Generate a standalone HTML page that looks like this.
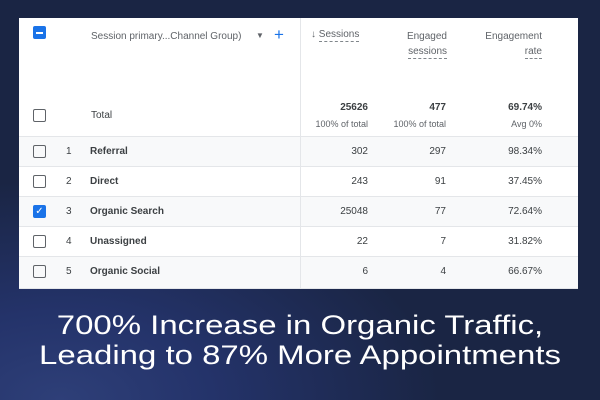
<!DOCTYPE html>
<html><head><style>
body{margin:0;width:600px;height:400px;overflow:hidden;background:#1a2544;font-family:"Liberation Sans",sans-serif;position:relative}
.bg{position:absolute;left:0;top:0;width:600px;height:400px;background:radial-gradient(ellipse 380px 220px at 60px 400px,#2e3f78 0%,#24336a 40%,#1a2544 100%)}
.panel{position:absolute;left:19px;top:18px;width:559px;height:271px;background:#fff}
.a{position:absolute;font-size:10px;color:#3c4043;white-space:nowrap}
.r{text-align:right}
.cb{position:absolute;left:14px;width:11px;height:11px;border:1.5px solid #5f6368;border-radius:2px}
.row{position:absolute;left:0;width:559px;height:30px;border-top:1px solid #e4e6e9}
.dash{border-bottom:1px dashed #80868b;padding-bottom:1px}
.h{position:absolute;left:0;width:600px;text-align:center;color:#fff;font-size:27px;transform:scaleX(1.22);line-height:30px}
</style></head><body>
<div class="bg"></div>
<div class="panel">
<div class="cb" style="top:91px"></div>
<div style="position:absolute;left:14px;top:8px;width:13px;height:13px;background:#1a73e8;border-radius:2px"><div style="position:absolute;left:3px;top:5.5px;width:7px;height:2px;background:#fff"></div></div>
<div class="a" style="left:72px;top:13px;color:#5f6368">Session primary...Channel Group)</div>
<div class="a" style="left:237px;top:13px;color:#5f6368;font-size:8px">▼</div>
<div class="a" style="left:255px;top:7px;color:#1a73e8;font-size:17px">+</div>
<div class="a" style="left:292px;top:11px;color:#5f6368">↓ <span class="dash">Sessions</span></div>
<div class="a r" style="right:131px;top:11px;color:#5f6368;line-height:15px"><span>Engaged</span><br><span class="dash">sessions</span></div>
<div class="a r" style="right:36px;top:11px;color:#5f6368;line-height:15px">Engagement<br><span class="dash">rate</span></div>
<div class="a" style="left:72px;top:92px">Total</div>
<div class="a r" style="right:210px;top:84px;font-weight:bold">25626</div>
<div class="a r" style="right:210px;top:101px;color:#5f6368;font-size:9px">100% of total</div>
<div class="a r" style="right:132px;top:84px;font-weight:bold">477</div>
<div class="a r" style="right:132px;top:101px;color:#5f6368;font-size:9px">100% of total</div>
<div class="a r" style="right:36px;top:84px;font-weight:bold">69.74%</div>
<div class="a r" style="right:36px;top:101px;color:#5f6368;font-size:9px">Avg 0%</div>

<div class="row" style="top:118px;background:#f8f9fa"><div class="cb" style="top:8px"></div><div class="a" style="left:47px;top:9px">1</div><div class="a" style="left:71px;top:9px;font-weight:bold">Referral</div><div class="a r" style="right:210px;top:9px">302</div><div class="a r" style="right:132px;top:9px">297</div><div class="a r" style="right:36px;top:9px">98.34%</div></div>
<div class="row" style="top:148px"><div class="cb" style="top:8px"></div><div class="a" style="left:47px;top:9px">2</div><div class="a" style="left:71px;top:9px;font-weight:bold">Direct</div><div class="a r" style="right:210px;top:9px">243</div><div class="a r" style="right:132px;top:9px">91</div><div class="a r" style="right:36px;top:9px">37.45%</div></div>
<div class="row" style="top:178px;background:#f8f9fa"><div class="cb" style="top:8px;background:#1a73e8;border-color:#1a73e8;color:#fff;font-size:10px;line-height:11px;text-align:center">✓</div><div class="a" style="left:47px;top:9px">3</div><div class="a" style="left:71px;top:9px;font-weight:bold">Organic Search</div><div class="a r" style="right:210px;top:9px">25048</div><div class="a r" style="right:132px;top:9px">77</div><div class="a r" style="right:36px;top:9px">72.64%</div></div>
<div class="row" style="top:208px"><div class="cb" style="top:8px"></div><div class="a" style="left:47px;top:9px">4</div><div class="a" style="left:71px;top:9px;font-weight:bold">Unassigned</div><div class="a r" style="right:210px;top:9px">22</div><div class="a r" style="right:132px;top:9px">7</div><div class="a r" style="right:36px;top:9px">31.82%</div></div>
<div class="row" style="top:238px;background:#f8f9fa;border-bottom:1px solid #e4e6e9;height:31px"><div class="cb" style="top:8px"></div><div class="a" style="left:47px;top:9px">5</div><div class="a" style="left:71px;top:9px;font-weight:bold">Organic Social</div><div class="a r" style="right:210px;top:9px">6</div><div class="a r" style="right:132px;top:9px">4</div><div class="a r" style="right:36px;top:9px">66.67%</div></div>
<div style="position:absolute;left:281px;top:0;width:1px;height:271px;background:#e4e6e9;z-index:5"></div>
</div>
<div class="h" style="top:310px">700% Increase in Organic Traffic,</div>
<div class="h" style="top:340px">Leading to 87% More Appointments</div>
</body></html>
